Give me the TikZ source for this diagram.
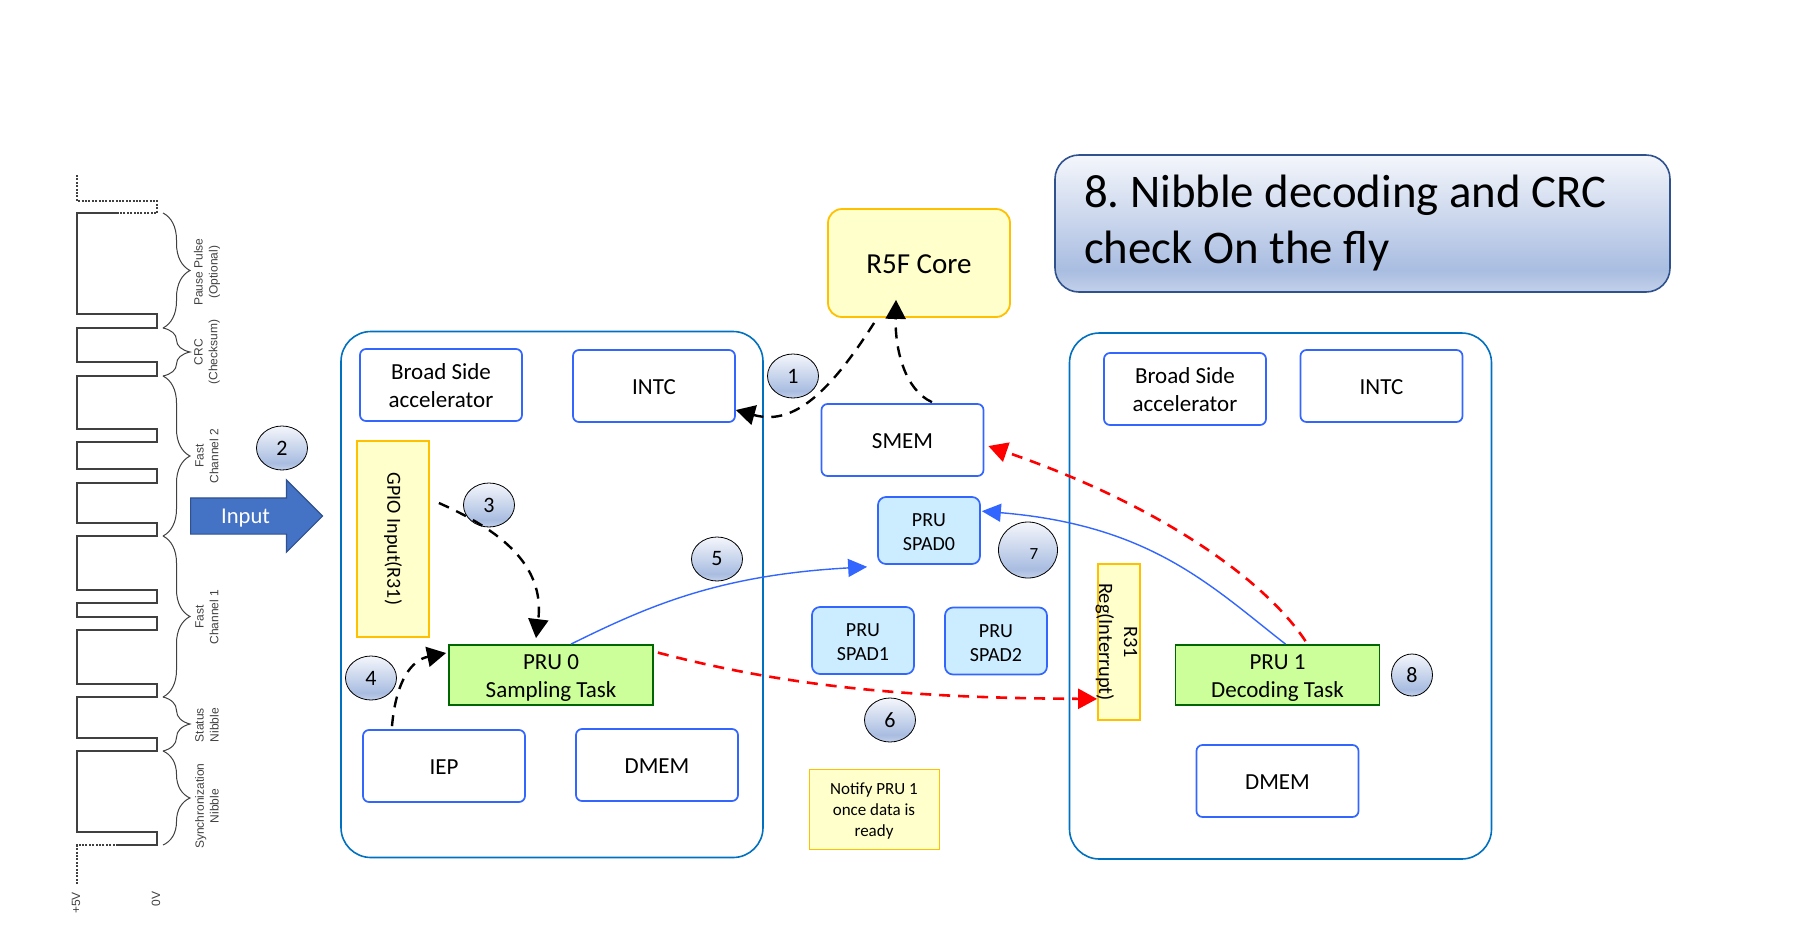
\documentclass[tikz,border=0pt]{standalone}
\usepackage{fontspec}
\setmainfont{Carlito}
\newfontfamily\wavefont{Liberation Sans}
\usetikzlibrary{shapes,arrows.meta,decorations.pathreplacing}

\definecolor{boxblue}{HTML}{3366FF}
\definecolor{groupblue}{HTML}{0070C0}
\definecolor{regfill}{HTML}{FFFFCC}
\definecolor{regline}{HTML}{FFC000}
\definecolor{taskfill}{HTML}{CCFF99}
\definecolor{taskline}{HTML}{006600}
\definecolor{spadfill}{HTML}{CCECFF}
\definecolor{inputfill}{HTML}{4472C4}
\definecolor{inputline}{HTML}{2F528F}
\definecolor{wavegray}{HTML}{404040}
\definecolor{fadetop}{HTML}{F4F6FB}
\definecolor{fademid}{HTML}{A9BDE1}
\definecolor{fadeedge}{HTML}{C3D0E9}
\pgfdeclareverticalshading{glossfade}{100bp}{color(0bp)=(fadeedge); color(25bp)=(fadeedge); color(33bp)=(fademid); color(75bp)=(fadetop); color(100bp)=(fadetop)}
\newcommand{\linedrop}[1]{\rule{0pt}{#1}}

\begin{document}
\begin{tikzpicture}[x=0.5pt, y=-0.5pt]
    % Define styles
    \tikzstyle{groupbox}=[rectangle,rounded corners=15pt,draw=groupblue,line width=0.8pt,fill=white,minimum width=211pt,minimum height=263pt]
    \tikzstyle{blockbox}=[rectangle,rounded corners=3pt,draw=boxblue,line width=0.85pt,fill=white,minimum width=81pt,minimum height=36pt,align=center,font=\fontsize{11.5}{14}\selectfont]
    \tikzstyle{spadbox}=[rectangle,rounded corners=4pt,draw=boxblue,line width=0.85pt,fill=spadfill,minimum width=51pt,minimum height=33.5pt,align=center,font=\fontsize{10}{12}\selectfont]
    \tikzstyle{taskbox}=[rectangle,draw=taskline,line width=0.9pt,fill=taskfill,minimum width=102pt,minimum height=30pt,inner sep=0pt,align=center,font=\fontsize{11.5}{14}\selectfont]
    \tikzstyle{regbox}=[rectangle,draw=regline,line width=0.9pt,fill=regfill,inner sep=0pt,align=center,font=\fontsize{10}{12.5}\selectfont]
    \tikzstyle{badge}=[ellipse,draw=black,line width=0.4pt,shading=glossfade,minimum width=25.5pt,minimum height=22pt,inner sep=0pt,font=\fontsize{11}{13}\selectfont]
    \tikzstyle{wave}=[draw=wavegray,line width=0.55pt]
    \tikzstyle{wavedots}=[draw=wavegray,line width=0.55pt,dash pattern=on 1pt off 0.7pt]
    \tikzstyle{curly}=[draw=wavegray,line width=0.5pt,decorate,decoration={brace,amplitude=13.5pt}]
    \tikzstyle{wavetext}=[rotate=90,align=center,text=wavegray,font=\wavefont\fontsize{6}{7.4}\selectfont]
    \tikzstyle{blackline}=[draw=black,line width=1.2pt,dash pattern=on 5.5pt off 4pt,-{Triangle[length=9.5pt,width=10pt]}]
    \tikzstyle{redline}=[draw=red,line width=1.3pt,dash pattern=on 5.5pt off 4pt,-{Triangle[length=9.5pt,width=10pt]}]
    \tikzstyle{blueline}=[draw=boxblue,line width=0.7pt,-{Triangle[length=9.5pt,width=9pt]}]

    \useasboundingbox (0,0) rectangle (1800,927);

    % Signal trace
    \path [wavedots] (77,175) -- (77,201) -- (157,201) -- (157,213) -- (118,213);
    \path [wave] (118,213) -- (77,213) -- (77,314) -- (157,314) -- (157,328) -- (77,328) -- (77,362) -- (157,362) -- (157,376) -- (77,376) -- (77,429) -- (157,429) -- (157,442) -- (77,442) -- (77,469) -- (157,469) -- (157,483) -- (77,483) -- (77,523) -- (157,523) -- (157,536) -- (77,536) -- (77,590) -- (157,590) -- (157,603) -- (77,603) -- (77,617) -- (157,617) -- (157,630) -- (77,630) -- (77,684) -- (157,684) -- (157,697) -- (77,697) -- (77,738) -- (157,738) -- (157,751) -- (77,751) -- (77,832) -- (157,832) -- (157,845) -- (118,845);
    \path [wavedots] (118,845) -- (77,845) -- (77,885);

    % Braces and signal labels
    \path [curly] (163,213) -- (163,328);
    \path [curly] (163,328) -- (163,376);
    \path [curly] (163,376) -- (163,536);
    \path [curly] (163,536) -- (163,697);
    \path [curly] (163,697) -- (163,751);
    \path [curly] (163,751) -- (163,845);
    \node [wavetext] (pauselabel) at (207,272) {Pause Pulse\\(Optional)};
    \node [wavetext] (crclabel) at (207,352) {CRC\\(Checksum)};
    \node [wavetext] (fast2label) at (207,456) {Fast\\Channel 2};
    \node [wavetext] (fast1label) at (207,617) {Fast\\Channel 1};
    \node [wavetext] (statuslabel) at (207,725) {Status\\Nibble};
    \node [wavetext] (synclabel) at (207,806) {Synchronization\\Nibble};
    \node [wavetext] (highlabel) at (76,903) {+5V};
    \node [wavetext] (lowlabel) at (156,899) {0V};

    % Input arrow
    \node [single arrow,anchor=tail,draw=inputline,line width=0.6pt,fill=inputfill,text=white,minimum width=35.5pt,minimum height=66pt,single arrow head extend=9pt,inner sep=1pt,font=\fontsize{11.3}{13}\selectfont] (input) at (190,516) {\raisebox{-3.8pt}[7.75pt][7.75pt]{\hspace{-2pt}Input}};

    % Groups
    \node [groupbox] (pru0group) at (552,594.5) {};
    \node [groupbox] (pru1group) at (1280.5,596) {};

    % PRU 0 side
    \node [blockbox] (broadside0) at (441,385) {\linedrop{9pt}Broad Side\\accelerator};
    \node [blockbox] (intc0) at (654,386) {\linedrop{8.5pt}INTC};
    \node [regbox,rotate=-90,minimum width=98pt,minimum height=36pt] (gpio) at (393,539) {GPIO Input(R31)};
    \node [taskbox] (pru0) at (551,675) {\linedrop{10pt}PRU 0\\Sampling Task};
    \node [blockbox] (iep) at (444,766) {\linedrop{8.5pt}IEP};
    \node [blockbox] (dmem0) at (657,765) {\linedrop{8.5pt}DMEM};

    % Shared blocks
    \node [rectangle,rounded corners=7pt,draw=regline,line width=0.9pt,fill=regfill,minimum width=91pt,minimum height=54pt,font=\fontsize{14.5}{17}\selectfont] (r5f) at (919,263) {\linedrop{11pt}R5F Core};
    \node [blockbox] (smem) at (902.5,440) {\linedrop{8.5pt}SMEM};
    \node [spadbox] (spad0) at (929,530.5) {\linedrop{8.2pt}PRU\\SPAD0};
    \node [spadbox] (spad1) at (863,640.5) {\linedrop{8.2pt}PRU\\SPAD1};
    \node [spadbox] (spad2) at (996,641) {\linedrop{8.2pt}PRU\\SPAD2};
    \node [rectangle,draw=regline,line width=0.4pt,fill=regfill,minimum width=65pt,minimum height=40pt,inner sep=0pt,align=center,font=\fontsize{8.5}{10.5}\selectfont] (note) at (874,809) {\linedrop{8pt}Notify PRU 1\\once data is\\ready};

    % PRU 1 side
    \node [blockbox] (broadside1) at (1185,389) {\linedrop{9pt}Broad Side\\accelerator};
    \node [blockbox] (intc1) at (1381.5,386) {\linedrop{8.5pt}INTC};
    \node [regbox,minimum width=21pt,minimum height=78pt] (r31) at (1119,642) {};
    \node [rotate=-90,align=center,inner sep=0pt,font=\fontsize{10.2}{12.5}\selectfont] (r31text) at ([xshift=-1.25pt]r31.center) {R31\\Reg(Interrupt)};
    \node [taskbox] (pru1) at (1277.5,675) {\linedrop{10pt}PRU 1\\Decoding Task};
    \node [blockbox] (dmem1) at (1277.5,781) {\linedrop{8.5pt}DMEM};

    % Title
    \node [rectangle,rounded corners=12pt,draw=inputline,line width=0.8pt,shading=glossfade,minimum height=68.5pt,text width=278.5pt,inner xsep=14.5pt,inner ysep=0pt,align=left,font=\fontsize{23.4}{28}\selectfont] (title) at (1362.5,223.5) {\frenchspacing\spaceskip=0.226em 8. Nibble decoding and CRC check On the fly};

    % Step numbers
    \node [badge] (step1) at (793,376) {1};
    \node [badge] (step2) at (282,448) {2};
    \node [badge] (step3) at (489,505) {3};
    \node [badge] (step4) at (371,678) {4};
    \node [badge] (step5) at (717,559) {5};
    \node [badge] (step6) at (890,720) {6};
    \node [badge,minimum width=29.5pt,minimum height=28pt,font=\fontsize{8.5}{11}\selectfont] (step7) at (1028,550) {\hspace{6pt}\raisebox{-9.5pt}{7}};
    \node [badge,minimum width=20.5pt,minimum height=21pt] (step8) at (1412,675) {8};

    % Define connections
    \path [blackline] ([xshift=23.5pt,yshift=-2.5pt]r5f.south west) .. controls (825,400) and (790,425) .. ([yshift=-12pt]intc0.east);
    \path [blackline] ([xshift=14.75pt,yshift=0.5pt]smem.north) .. controls (905,390) and (895,350) .. ([xshift=-11.5pt,yshift=9pt]r5f.south);
    \path [blackline] ([xshift=4.5pt,yshift=18pt]gpio.north) .. controls (500,530) and (545,565) .. ([xshift=-7.5pt,yshift=3pt]pru0.north);
    \path [blackline] ([xshift=-26pt,yshift=1.5pt]iep.north) .. controls (396,680) and (412,660) .. ([xshift=-1pt,yshift=11pt]pru0.west);
    \path [blueline] ([xshift=10pt]pru0.north) .. controls (650,605) and (720,575) .. ([xshift=-5pt,yshift=-1pt]spad0.south west);
    \path [redline] ([xshift=2pt,yshift=-4.25pt]pru0.north east) .. controls (800,690) and (930,698) .. ([yshift=11pt]r31.south west);
    \path [blueline] ([xshift=4pt]pru1.north) .. controls (1210,585) and (1150,525) .. ([xshift=0.5pt,yshift=-7.5pt]spad0.north east);
    \path [redline] ([xshift=14pt,yshift=1.5pt]pru1.north) .. controls (1265,580) and (1160,505) .. ([xshift=2pt,yshift=-3pt]smem.east);
\end{tikzpicture}
\end{document}
